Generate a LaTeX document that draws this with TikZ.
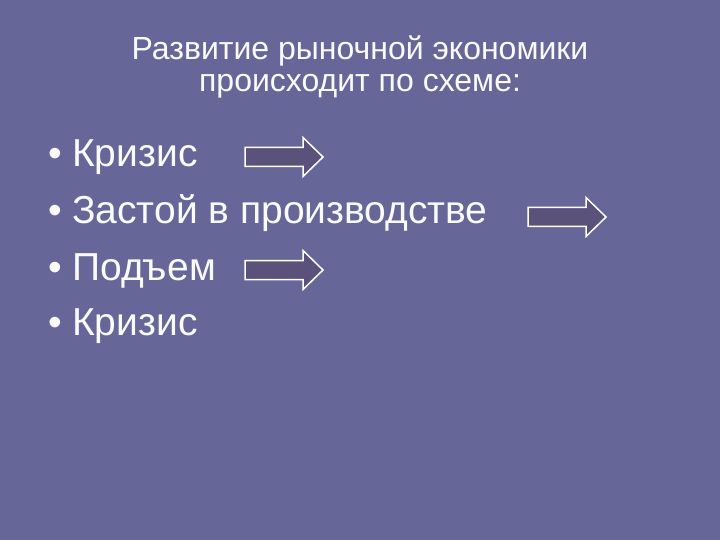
\documentclass[tikz,border=0pt]{standalone}
\usepackage{fontspec}
\setmainfont{Liberation Sans}
\usetikzlibrary{positioning}
\definecolor{slidebg}{RGB}{102,102,153}
\definecolor{arrowfill}{RGB}{90,82,122}
\definecolor{slidetext}{RGB}{250,250,250}
% arrow drawn from its tail end (x,y) at mid height
\newcommand{\flowarrow}[2]{%
  \filldraw[flow arrow] (#1,#2-9.5) -- ++(58,0) -- ++(0,-10) -- ++(20,19.5)
    -- ++(-20,19.5) -- ++(0,-10) -- ++(-58,0) -- cycle;}
\begin{document}
\begin{tikzpicture}[x=1pt,y=-1pt,
  title/.style={anchor=base, inner sep=0pt, text=slidetext, font=\fontsize{32}{36}\selectfont},
  item/.style={anchor=base west, inner sep=0pt, text=slidetext, font=\fontsize{39}{46}\selectfont},
  flow arrow/.style={draw=white, fill=arrowfill, line width=1.5pt, line join=miter}]
\fill[slidebg] (0,0) rectangle (720,540);
\useasboundingbox (0,0) rectangle (720,540);
% title
\node[title] (t1) at (360,60) {Развитие рыночной экономики};
\node[title] (t2) at (360,92) {происходит по схеме:};
% bullets
\node[item] (d1) at (48,167) {•};
\node[item] (d2) at (48,223) {•};
\node[item] (d3) at (48,280) {•};
\node[item] (d4) at (48,335) {•};
\node[item] (b1) at (72,167) {Кризис};
\node[item] (b2) at (72,223) {Застой в производстве};
\node[item] (b3) at (72,280) {Подъем};
\node[item] (b4) at (72,335) {Кризис};
% arrows
\flowarrow{245}{157}
\flowarrow{528}{217}
\flowarrow{245}{270}
\end{tikzpicture}
\end{document}
